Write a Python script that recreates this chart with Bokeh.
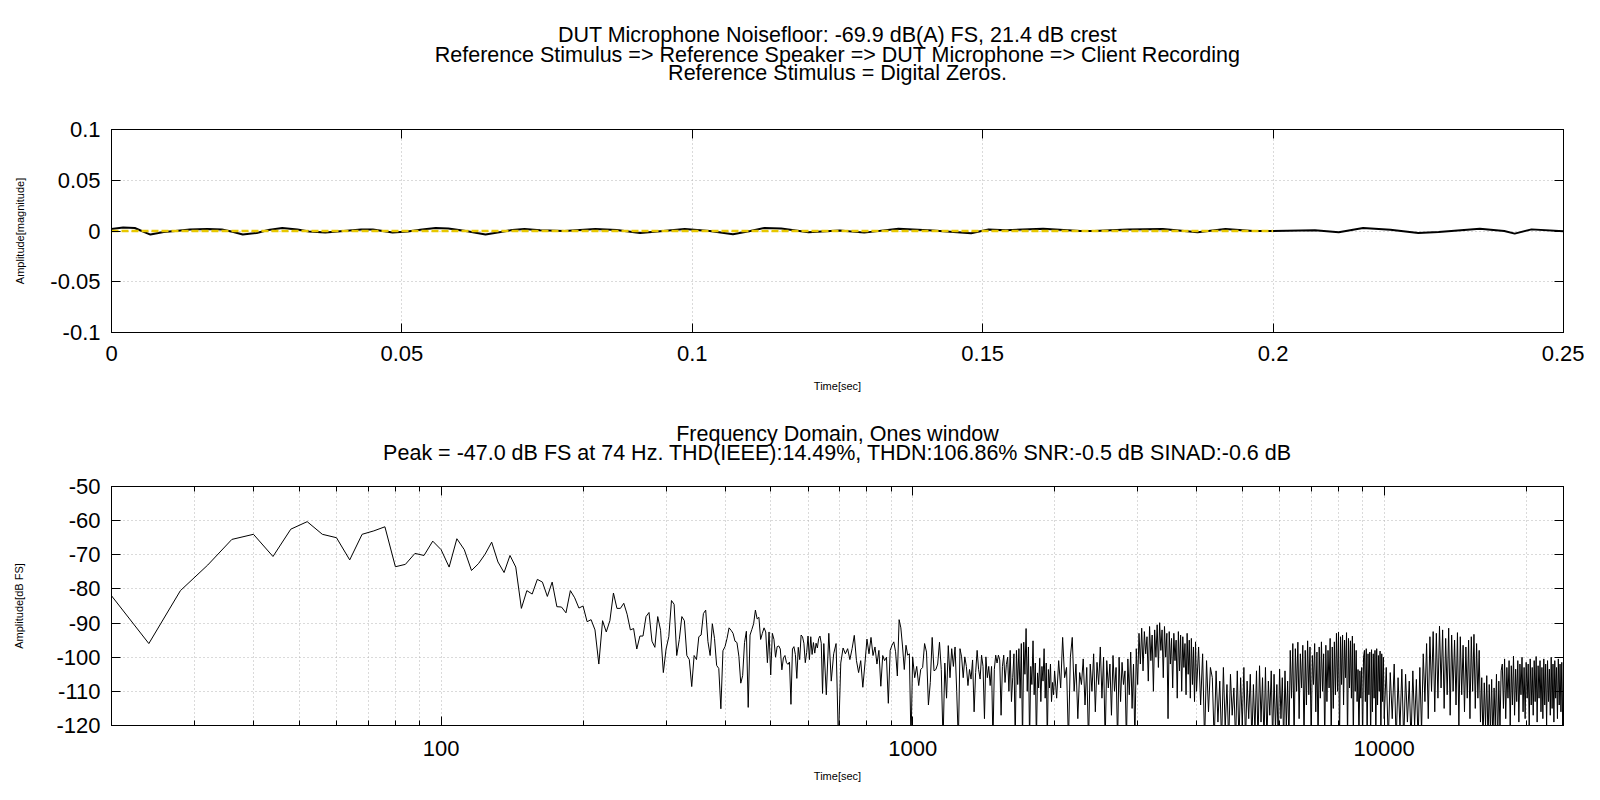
from bokeh.plotting import figure
from bokeh.models import (Range1d, FixedTicker, LinearAxis, LogAxis, Title,
                          CustomJSTickFormatter, ColumnDataSource)
from bokeh.layouts import column
from bokeh.embed import file_html
from bokeh.resources import INLINE

# ---------------- titles / labels ----------------
title_top = ["DUT Microphone Noisefloor: -69.9 dB(A) FS, 21.4 dB crest",
             "Reference Stimulus => Reference Speaker => DUT Microphone => Client Recording",
             "Reference Stimulus = Digital Zeros."]
title_bottom = ["Frequency Domain, Ones window",
                "Peak = -47.0 dB FS at 74 Hz. THD(IEEE):14.49%, THDN:106.86% SNR:-0.5 dB SINAD:-0.6 dB"]

# ---------------- time domain data ----------------
time_ticks = [0, 0.05, 0.1, 0.15, 0.2, 0.25]
amp_ticks = [-0.1, -0.05, 0, 0.05, 0.1]

time_s = [0.000, 0.002, 0.004, 0.0067, 0.009, 0.011, 0.0135, 0.0165, 0.019, 0.021,
          0.0226, 0.025, 0.027, 0.0294, 0.032, 0.034, 0.0368, 0.040, 0.043, 0.045,
          0.0484, 0.051, 0.0535, 0.0558, 0.058, 0.061, 0.0644, 0.067, 0.069, 0.0711,
          0.0738, 0.078, 0.0833, 0.087, 0.091, 0.095, 0.0987, 0.103, 0.107, 0.110,
          0.1124, 0.1153, 0.120, 0.1254, 0.1296, 0.1355, 0.1414, 0.148, 0.151, 0.154,
          0.1604, 0.1668, 0.1692, 0.175, 0.181, 0.187, 0.1918, 0.1965, 0.200, 0.2072,
          0.2113, 0.2155, 0.2202, 0.225, 0.2285, 0.2356, 0.2398, 0.2416, 0.2445, 0.250]
amplitude = [0.002, 0.0035, 0.003, -0.0035, -0.001, 0.0, 0.0015, 0.002, 0.0015, -0.001,
             -0.0035, -0.002, 0.001, 0.003, 0.0015, -0.0005, -0.0015, 0.0, 0.0015, 0.0015,
             -0.0015, -0.0005, 0.0015, 0.003, 0.0025, 0.0, -0.0035, -0.001, 0.001, 0.002,
             0.0007, 0.0, 0.002, 0.001, -0.002, 0.0, 0.002, 0.0, -0.0033, 0.0,
             0.003, 0.0025, -0.0013, 0.0005, -0.0016, 0.0023, 0.0005, -0.0023, 0.0015, 0.0008,
             0.0023, 0.0, 0.0, 0.0015, 0.002, -0.0013, 0.002, 0.0, 0.0, 0.0008,
             -0.0013, 0.003, 0.0012, -0.002, -0.001, 0.0023, 0.0, -0.0026, 0.0016, -0.0003]

stimulus_t = [0.0, 0.2]
stimulus_v = [0.0, 0.0]

# ---------------- frequency domain data ----------------
freq_major = [100, 1000, 10000]
freq_minor = [20, 30, 40, 50, 60, 70, 80, 90,
              200, 300, 400, 500, 600, 700, 800, 900,
              2000, 3000, 4000, 5000, 6000, 7000, 8000, 9000, 20000]
db_ticks = [-120, -110, -100, -90, -80, -70, -60, -50]

freq_lo = [20, 24, 28, 32, 36, 40, 44, 48, 52, 56, 60, 64, 68, 72, 76, 80,
           84, 88, 92, 96, 100, 104, 108, 112, 116, 120, 124, 128, 132, 136, 140, 144,
           148, 152, 156, 160, 164, 168, 172, 176, 180, 184, 188, 192, 196, 200, 204, 208,
           212, 216, 220, 224, 228, 232, 236, 240, 244, 248, 252, 256, 260, 264, 268, 272,
           276, 280, 284, 288, 292, 296, 300, 304, 308, 312, 316, 320, 324, 328, 332, 336,
           340, 344, 348, 352, 356, 360, 364, 368, 372, 376, 380, 384, 388, 392, 396, 400,
           404, 408, 412, 416, 420, 424, 428, 432, 436, 440, 444, 448, 452, 456, 460, 464,
           468, 472, 476, 480, 484, 488, 492, 496, 500, 504, 508, 512, 516, 520, 524, 528,
           532, 536, 540, 544, 548, 552, 556, 560, 564, 568, 572, 576, 580, 584, 588, 592,
           596, 600, 604, 608, 612, 616, 620, 624, 628, 632, 636, 640, 644]
db_lo = [-82, -96, -80.5, -73, -65.5, -64, -70.5, -62.5, -60.3, -64, -65, -71.5, -64, -63, -61.8, -73.5,
         -72.8, -69.6, -70.2, -66, -68.5, -73.6, -65.3, -68.5, -74.6, -72.6, -69.8, -66.3, -72.1, -75.2, -70.2, -73.6,
         -85.7, -80.5, -81.5, -77.2, -78, -82.2, -78, -85.2, -85.3, -87, -80.5, -82.6, -85.6, -85, -89.6, -89,
         -92, -102, -89.3, -92.6, -89.3, -81.2, -85.7, -85.7, -84.2, -87.4, -92, -91.6, -97.6, -93.8, -93.8, -88.1,
         -86.9, -95.3, -97.1, -88.1, -92.1, -104.5, -97.6, -94, -83.4, -84.5, -99.5, -94.8, -88.1, -89.3, -99.5, -100.7,
         -108.6, -99.5, -100.7, -94, -93.5, -87.2, -86.2, -95.4, -99.5, -90.2, -94.5, -102.4, -103.3, -115.1, -98.1, -96.9,
         -94.5, -91.4, -92.1, -93, -95.3, -95.7, -99.7, -107.6, -105.4, -95.7, -92.4, -114.7, -93.5, -91.9, -90.2, -86.2,
         -88.8, -88.3, -94.8, -93, -91.4, -92.6, -101.6, -92.6, -105.2, -93, -94.8, -100, -96.9, -96.7, -97.6, -103.7,
         -100.2, -99.5, -101.6, -102.1, -101.4, -113.8, -97.6, -96.9, -99.2, -106.2, -97.1, -100.7, -93.5, -94, -95.9, -101.6,
         -98.6, -93.8, -100.7, -94, -99.2, -95.7, -98.8, -95.9, -97.3, -94.5, -93.8, -95.9, -110.6]

freq_mid = [648, 656, 664, 672, 680, 688, 696, 704, 712, 720, 728, 736, 744, 752, 760,
            768, 776, 784, 792, 800, 808, 816, 824, 832, 840, 848, 856, 864, 872, 880,
            888, 896, 904, 912, 920, 928, 936, 944, 952, 960, 968, 976, 984, 992, 1000]
db_mid = [-96, -111, -93, -107, -99, -96, -125, -101.7, -97.3, -99, -97.5, -100.7, -97.5, -93.6, -101,
          -104.5, -101, -108.8, -102, -94.7, -99, -94.2, -99.5, -97, -102, -98, -108.5, -99.5, -101, -100,
          -113.5, -98, -96.5, -95.5, -98.4, -105.5, -89, -91.4, -97, -103.6, -96.5, -99.4, -99, -125, -99.9]

freq_1k = [1010, 1020, 1030, 1040, 1050, 1060, 1070, 1080, 1090, 1100,
           1110, 1120, 1130, 1140, 1150, 1160, 1170, 1180, 1190, 1200,
           1210, 1220, 1230, 1240, 1250, 1260, 1270, 1280, 1290, 1300,
           1310, 1320, 1330, 1340, 1350, 1360, 1370, 1380, 1390, 1400,
           1410, 1420, 1430, 1440, 1450, 1460, 1470, 1480, 1490, 1500,
           1510, 1520, 1530, 1540, 1550, 1560, 1570, 1580, 1590, 1600,
           1610, 1620, 1630, 1640, 1650, 1660, 1670, 1680, 1690, 1700,
           1710, 1720, 1730, 1740, 1750, 1760, 1770, 1780, 1790, 1800,
           1810, 1820, 1830, 1840, 1850, 1860, 1870, 1880, 1890, 1900,
           1910, 1920, 1930, 1940, 1950, 1960, 1970, 1980, 1990, 2000]
db_1k = [-106, -102.7, -108.3, -103.6, -103, -96, -98.5, -114, -107.4, -94.2,
         -104, -103.6, -102, -95.6, -103.6, -125, -101.7, -112, -96.6, -106,
         -97.5, -102.7, -97, -110, -125, -97.5, -99.9, -106, -99.9, -102.7,
         -108.3, -103.6, -106.4, -100.8, -116, -104.5, -98, -103.6, -106.4, -99.4,
         -102.7, -118, -99.9, -106, -102.7, -108.3, -102.7, -125, -103.6, -99.4,
         -101.7, -99.4, -100.8, -117, -102.7, -99.4, -107.4, -102.2, -100, -110,
         -98, -113, -106, -99, -125, -98, -108, -97.5, -112, -96,
         -125, -95.6, -105, -91.6, -110, -97, -125, -102.7, -108, -95.2,
         -111, -101.7, -125, -104.6, -109, -100.3, -113, -102.7, -107, -97.5,
         -112, -101.7, -125, -103.6, -109, -102, -113, -107.4, -111, -104]

freq_2k = [2020, 2040, 2060, 2080, 2100, 2120, 2140, 2160, 2180, 2200,
           2220, 2240, 2260, 2280, 2300, 2320, 2340, 2360, 2380, 2400,
           2420, 2440, 2460, 2480, 2500, 2520, 2540, 2560, 2580, 2600,
           2620, 2640, 2660, 2680, 2700, 2720, 2740, 2760, 2780, 2800,
           2820, 2840, 2860, 2880, 2900, 2920, 2940, 2960, 2980, 3000,
           3020, 3040, 3060, 3080, 3100, 3120, 3140, 3160, 3180, 3200,
           3220, 3240, 3260, 3280, 3300, 3320, 3340, 3360, 3380, 3400,
           3420, 3440, 3460, 3480, 3500, 3520, 3540, 3560, 3580, 3600,
           3620, 3640, 3660, 3680, 3700, 3720, 3740, 3760, 3780, 3800,
           3820, 3840, 3860, 3880, 3900, 3920, 3940, 3960, 3980, 4000]
db_2k = [-112, -101, -109, -94.2, -106, -103, -125, -100, -94.2, -110,
         -102, -118, -104.5, -108, -100.5, -114, -103, -125, -102, -110,
         -99, -116, -101.5, -108, -97, -112, -100, -125, -101, -109,
         -102, -117, -99.5, -110, -103, -125, -100, -113, -101.5, -108,
         -104, -125, -100.5, -111, -98.5, -115, -102, -125, -97.5, -108,
         -93, -102, -91.5, -104, -92.5, -99, -94, -107, -91, -101,
         -93.5, -110, -92, -100, -90.5, -103, -89.9, -98, -92, -106,
         -91, -100, -93, -118, -92.5, -102, -94.5, -109, -93, -101,
         -95, -112, -92.5, -104, -93.5, -110, -94, -103, -96, -111,
         -93, -105, -95, -112, -94.5, -108, -97, -113, -95.5, -110]

freq_4k = [4040, 4080, 4120, 4160, 4200, 4240, 4280, 4320, 4360, 4400,
           4440, 4480, 4520, 4560, 4600, 4640, 4680, 4720, 4760, 4800,
           4840, 4880, 4920, 4960, 5000, 5040, 5080, 5120, 5160, 5200,
           5240, 5280, 5320, 5360, 5400, 5440, 5480, 5520, 5560, 5600,
           5640, 5680, 5720, 5760, 5800, 5840, 5880, 5920, 5960, 6000,
           6040, 6080, 6120, 6160, 6200, 6240, 6280, 6320, 6360, 6400,
           6440, 6480, 6520, 6560, 6600, 6640, 6680, 6720, 6760, 6800,
           6840, 6880, 6920, 6960, 7000, 7040, 7080, 7120, 7160, 7200,
           7240, 7280, 7320, 7360, 7400, 7440, 7480, 7520, 7560, 7600,
           7640, 7680, 7720, 7760, 7800, 7840, 7880, 7920, 7960, 8000,
           8040, 8080, 8120, 8160, 8200, 8240, 8280, 8320, 8360, 8400,
           8440, 8480, 8520, 8560, 8600, 8640, 8680, 8720, 8760, 8800,
           8840, 8880, 8920, 8960, 9000, 9040, 9080, 9120, 9160, 9200,
           9240, 9280, 9320, 9360, 9400, 9440, 9480, 9520, 9560, 9600,
           9640, 9680, 9720, 9760, 9800, 9840, 9880, 9920, 9960, 10000]
db_4k = [-97, -114, -99, -125, -101, -116, -103,
         -106, -125, -104, -119, -107, -125, -103, -121, -108, -125,
         -105, -117, -109, -125, -104, -125, -106, -120, -103, -125,
         -107, -118, -105, -125, -108, -122, -104, -125, -102.5, -119,
         -106, -125, -103, -125, -107, -117, -104, -125, -105, -121,
         -108, -125, -103.5, -118, -106, -125, -104, -120, -107, -125,
         -98, -112, -96, -125, -97.5, -110, -95.6, -118, -99, -109,
         -96.5, -125, -98, -114, -95.2, -111, -97, -125, -99.5, -108,
         -96, -116, -98.5, -125, -97, -112, -95.5, -110, -99, -125,
         -96.5, -113, -98, -109, -94.5, -125, -97, -115, -95.5, -111,
         -93, -110, -92.6, -125, -94, -108, -93.5, -114, -95, -106,
         -92.8, -125, -94.5, -109, -95.2, -112, -93.8, -125, -96, -110,
         -98, -113, -103.6, -125, -104, -112, -103, -125, -100,
         -98, -113, -97.5, -125, -99, -111, -98.5, -125, -97.8, -116,
         -99, -112, -98, -125, -97.5, -114, -99.5, -110, -98.2, -125,
         -99, -113, -100, -118]

freq_10k = [10100, 10200, 10300, 10400, 10500, 10600, 10700, 10800, 10900, 11000,
            11100, 11200, 11300, 11400, 11500, 11600, 11700, 11800, 11900, 12000,
            12100, 12200, 12300, 12400, 12500, 12600, 12700, 12800, 12900, 13000,
            13100, 13200, 13300, 13400, 13500, 13600, 13700, 13800, 13900, 14000,
            14100, 14200, 14300, 14400, 14500, 14600, 14700, 14800, 14900, 15000,
            15100, 15200, 15300, 15400, 15500, 15600, 15700, 15800, 15900, 16000,
            16100, 16200, 16300, 16400, 16500, 16600, 16700, 16800, 16900, 17000,
            17100, 17200, 17300, 17400, 17500, 17600, 17700, 17800, 17900, 18000,
            18100, 18200, 18300, 18400, 18500, 18600, 18700, 18800, 18900, 19000,
            19100, 19200, 19300, 19400, 19500, 19600, 19700, 19800, 19900, 20000,
            20100, 20200, 20300, 20400, 20500, 20600, 20700, 20800, 20900, 21000,
            21100, 21200, 21300, 21400, 21500, 21600, 21700, 21800, 21900, 22000,
            22100, 22200, 22300, 22400, 22500, 22600, 22700, 22800, 22900, 23000,
            23100, 23200, 23300, 23400, 23500, 23600, 23700, 23800, 23900, 24000]
db_10k = [-103, -125, -104.5, -118, -102, -125, -106, -121, -103.5, -125,
          -105, -119, -107, -125, -104, -120, -106.5, -125, -103, -122,
          -99, -113, -96, -118, -94, -110, -92.5, -116, -93, -112,
          -90.9, -109, -92, -115, -94.5, -111, -91.5, -117, -93.5, -110,
          -95, -114, -92.8, -120, -94, -111, -96.5, -116, -97, -112,
          -95, -118, -94, -110, -93.3, -115, -96, -112, -98, -119,
          -106, -125, -107.5, -120, -105.4, -125, -108, -122, -106.5, -125,
          -109, -120, -105, -125, -107, -121, -104,
          -102, -115, -100.5, -118, -103, -112, -101, -120, -102.5, -114,
          -99.7, -117, -103.5, -113, -101, -119, -102, -111, -100, -116,
          -103, -118, -101.5, -112, -102, -120, -100.5, -114, -103, -117,
          -101, -113, -99.8, -119, -102.5, -112, -101, -116, -103, -118,
          -100.5, -114, -102, -120, -101, -113, -103.5, -117, -100, -115,
          -102, -119, -101, -112, -103, -118, -100.5, -114, -102, -116,
          -101.5, -120, -103]

spec_freq = freq_lo + freq_mid + freq_1k + freq_2k + freq_4k + freq_10k
spec_db = db_lo + db_mid + db_1k + db_2k + db_4k + db_10k
assert len(spec_freq) == len(spec_db), (len(spec_freq), len(spec_db))
assert len(time_s) == len(amplitude)

# ---------------- styling helpers ----------------
FONT = "Liberation Sans"
GRID = "#b4b4b4"
FMT = "return tick.toString();"


def style_axis(ax, ticker, labels=True, minor=False, label_standoff=12):
    ax.ticker = ticker
    ax.formatter = CustomJSTickFormatter(code=FMT)
    ax.major_tick_in = 9
    ax.major_tick_out = 0
    ax.major_tick_line_color = "black"
    ax.minor_tick_in = 5 if minor else 0
    ax.minor_tick_out = 0
    ax.minor_tick_line_color = "black" if minor else None
    ax.axis_line_color = "black"
    ax.major_label_text_font = FONT
    ax.major_label_text_font_size = "22px"
    ax.major_label_standoff = int(round(label_standoff))
    ax.major_label_text_color = "black" if labels else None
    ax.axis_label_text_font = FONT
    ax.axis_label_text_font_size = "11px"
    ax.axis_label_text_font_style = "normal"
    ax.axis_label_text_color = "black"


def spacer_axis(ax, ticker, gap):
    # invisible axis that only reserves vertical room between frame and titles
    ax.ticker = ticker
    ax.formatter = CustomJSTickFormatter(code=FMT)
    ax.major_tick_in = 0
    ax.major_tick_out = gap
    ax.major_tick_line_color = None
    ax.minor_tick_in = 0
    ax.minor_tick_out = 0
    ax.minor_tick_line_color = None
    ax.axis_line_color = None
    ax.major_label_text_color = None
    ax.major_label_standoff = 0


def add_titles(p, lines, standoffs):
    # the first title added sits closest to the frame
    for t, s in zip(reversed(lines), standoffs):
        p.add_layout(Title(text=t, align="center", vertical_align="top", text_font=FONT,
                           text_font_size="21.5px", text_font_style="normal",
                           text_color="black", standoff=s), "above")


def style_fig(p):
    p.outline_line_color = "black"
    p.outline_line_width = 1
    p.background_fill_color = "white"
    p.border_fill_color = "white"
    for g in (p.xgrid[0], p.ygrid[0]):
        g.grid_line_color = GRID
        g.grid_line_dash = "1 3"
        g.grid_line_width = 1


# ---------------- top: time domain ----------------
p1 = figure(width=1584, height=406, x_range=Range1d(0, 0.25), y_range=Range1d(-0.1, 0.1),
            output_backend="svg", toolbar_location=None, title=None,
            min_border_left=111, min_border_right=21, min_border_top=129, min_border_bottom=74)
style_fig(p1)
style_axis(p1.xaxis[0], FixedTicker(ticks=time_ticks), label_standoff=13)
style_axis(p1.yaxis[0], FixedTicker(ticks=amp_ticks), label_standoff=11)
p1.xaxis[0].axis_label = "Time[sec]"
p1.xaxis[0].axis_label_standoff = 16
p1.yaxis[0].axis_label = "Amplitude[magnitude]"
p1.yaxis[0].axis_label_standoff = 21
top1 = LinearAxis(); style_axis(top1, FixedTicker(ticks=time_ticks), labels=False, label_standoff=0)
right1 = LinearAxis(); style_axis(right1, FixedTicker(ticks=amp_ticks), labels=False, label_standoff=0)
gap1 = LinearAxis(); spacer_axis(gap1, FixedTicker(ticks=time_ticks), 43)
p1.add_layout(top1, "above")
p1.add_layout(gap1, "above")
p1.add_layout(right1, "right")
p1.xgrid[0].ticker = FixedTicker(ticks=time_ticks)
p1.ygrid[0].ticker = FixedTicker(ticks=amp_ticks)
add_titles(p1, title_top, [0, -15.6, 1.8])

src_t = ColumnDataSource(dict(t=time_s, v=amplitude))
p1.line("t", "v", source=src_t, line_color="black", line_width=2)
p1.line(stimulus_t, stimulus_v, line_color="#e8c800", line_width=2.5, line_dash="7 3")

# ---------------- bottom: frequency domain ----------------
p2 = figure(width=1584, height=378, x_axis_type="log", x_range=Range1d(20, 24000),
            y_range=Range1d(-120, -50), output_backend="svg", toolbar_location=None, title=None,
            min_border_left=111, min_border_right=21, min_border_top=80, min_border_bottom=56)
style_fig(p2)
style_axis(p2.xaxis[0], FixedTicker(ticks=freq_major, minor_ticks=freq_minor), minor=True, label_standoff=15)
style_axis(p2.yaxis[0], FixedTicker(ticks=db_ticks), label_standoff=11)
p2.xaxis[0].axis_label = "Time[sec]"
p2.xaxis[0].axis_label_standoff = 11
p2.yaxis[0].axis_label = "Amplitude[dB FS]"
p2.yaxis[0].axis_label_standoff = 28
top2 = LogAxis(); style_axis(top2, FixedTicker(ticks=freq_major, minor_ticks=freq_minor), labels=False, minor=True, label_standoff=0)
right2 = LinearAxis(); style_axis(right2, FixedTicker(ticks=db_ticks), labels=False, label_standoff=0)
gap2 = LogAxis(); spacer_axis(gap2, FixedTicker(ticks=freq_major), 20)
p2.add_layout(top2, "above")
p2.add_layout(gap2, "above")
p2.add_layout(right2, "right")
p2.xgrid[0].ticker = FixedTicker(ticks=freq_major, minor_ticks=freq_minor)
p2.xgrid[0].minor_grid_line_color = GRID
p2.xgrid[0].minor_grid_line_dash = "1 3"
p2.ygrid[0].ticker = FixedTicker(ticks=db_ticks)
add_titles(p2, title_bottom, [0, -14])

src_f = ColumnDataSource(dict(f=spec_freq, db=spec_db))
p2.line("f", "db", source=src_f, line_color="black", line_width=1)

layout = column(p1, p2, spacing=0)
open("out.html", "w").write(file_html(layout, INLINE))
